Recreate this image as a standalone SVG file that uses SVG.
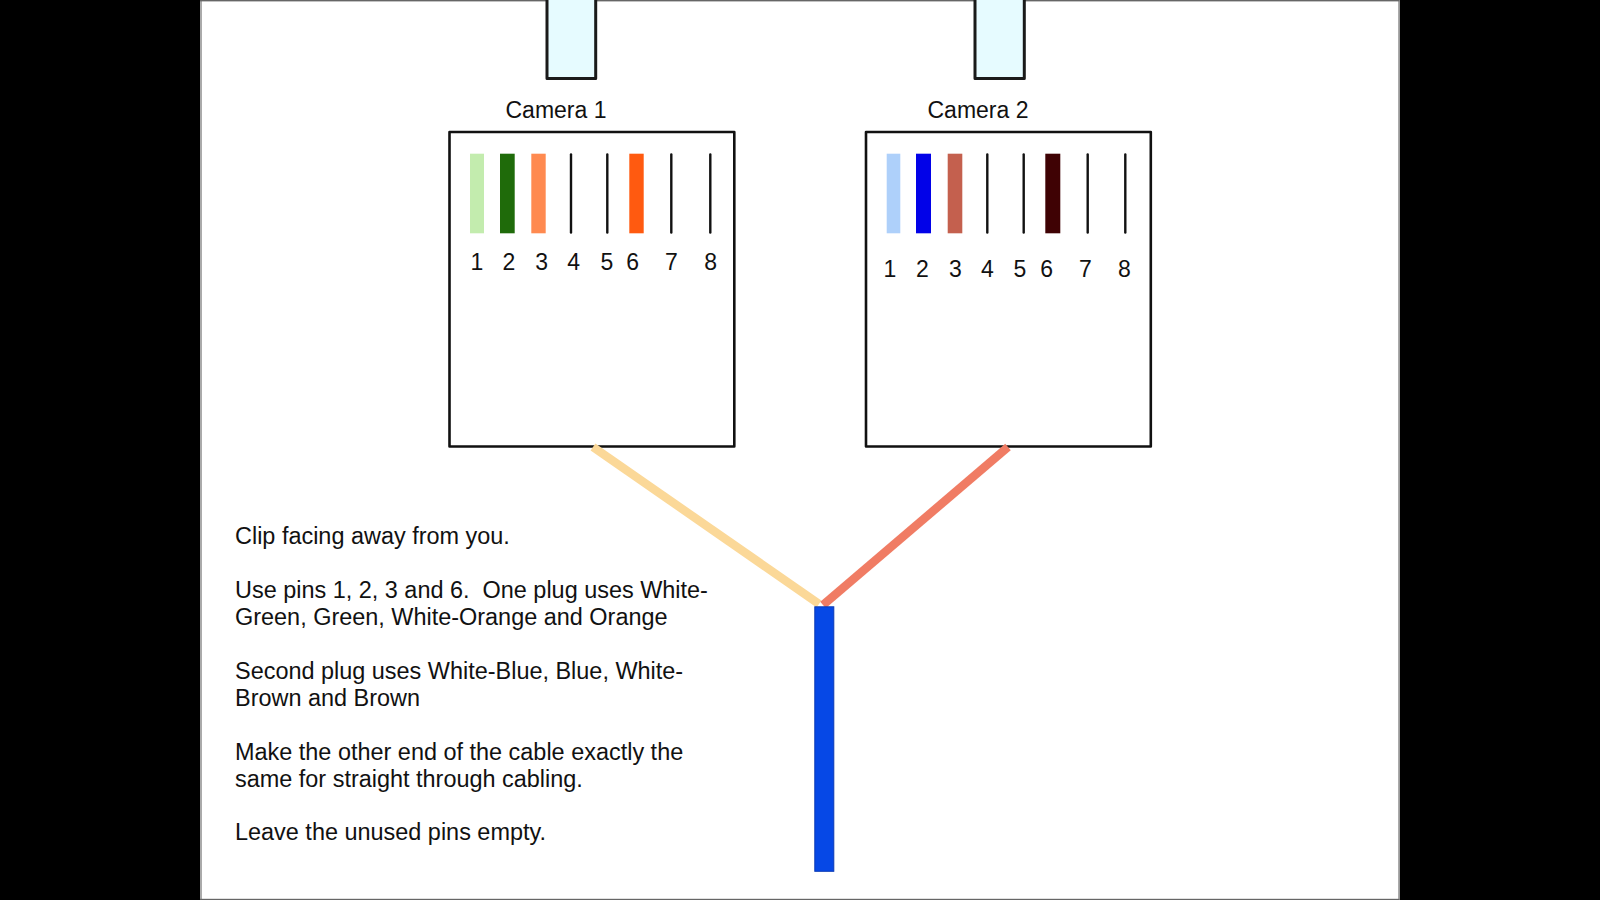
<svg xmlns="http://www.w3.org/2000/svg" width="1600" height="900" viewBox="0 0 1600 900">
<style>
text{font-family:"Liberation Sans",Arial,sans-serif;fill:#111}
.n{font-size:23px;text-anchor:middle}
.c{font-size:23px}
.t{font-size:23.45px;white-space:pre}
.box{fill:#fff;stroke:#111;stroke-width:2.6;stroke-linejoin:round}
.plug{fill:#e6fbff;stroke:#1a1a1a;stroke-width:3;stroke-linejoin:round}
.w{stroke:#111;stroke-width:2.4;stroke-linecap:round}
.edge{fill:#aaa}
</style>
<rect width="1600" height="900" fill="#000"/>
<rect x="200" y="0" width="1199.5" height="900" fill="#fff"/>
<rect class="edge" x="200" y="0" width="2" height="900"/>
<rect class="edge" x="1398" y="0" width="1.6" height="900"/>
<rect x="200" y="0" width="1199.5" height="1.4" fill="#666"/>
<rect x="200" y="898.8" width="1199.5" height="1.2" fill="#666"/>
<g id="plug1"><rect class="plug" x="547" y="-4" width="48.7" height="82.5"/></g>
<g id="plug2"><rect class="plug" x="975" y="-4" width="49.3" height="82.5"/></g>
<g id="jack1">
<text class="c" x="505.5" y="117.8">Camera 1</text>
<rect class="box" x="449.5" y="132" width="284.8" height="314.5"/>
<rect x="470" y="153.7" width="14" height="79.6" fill="#c3ecae"/>
<rect x="500" y="153.7" width="14.7" height="79.6" fill="#1f6b0a"/>
<rect x="531.3" y="153.7" width="14.4" height="79.6" fill="#ff8a50"/>
<line class="w" x1="571" y1="154.5" x2="571" y2="232.5"/>
<line class="w" x1="607.3" y1="154.5" x2="607.3" y2="232.5"/>
<rect x="629.3" y="153.7" width="14.4" height="79.6" fill="#ff5a10"/>
<line class="w" x1="671.3" y1="154.5" x2="671.3" y2="232.5"/>
<line class="w" x1="710.3" y1="154.5" x2="710.3" y2="232.5"/>
<text class="n" x="477" y="270">1</text><text class="n" x="509" y="270">2</text><text class="n" x="541.7" y="270">3</text><text class="n" x="573.7" y="270">4</text><text class="n" x="607" y="270">5</text><text class="n" x="632.7" y="270">6</text><text class="n" x="671.3" y="270">7</text><text class="n" x="710.7" y="270">8</text>
</g>
<g id="jack2">
<text class="c" x="927.5" y="117.8">Camera 2</text>
<rect class="box" x="866" y="132" width="284.8" height="314.5"/>
<rect x="886.7" y="153.7" width="13.6" height="79.6" fill="#aed0fa"/>
<rect x="916" y="153.7" width="15" height="79.6" fill="#0202e8"/>
<rect x="947.7" y="153.7" width="14.6" height="79.6" fill="#c4604e"/>
<line class="w" x1="987.3" y1="154.5" x2="987.3" y2="232.5"/>
<line class="w" x1="1023.7" y1="154.5" x2="1023.7" y2="232.5"/>
<rect x="1045.3" y="153.7" width="15" height="79.6" fill="#3f0204"/>
<line class="w" x1="1087.7" y1="154.5" x2="1087.7" y2="232.5"/>
<line class="w" x1="1125.3" y1="154.5" x2="1125.3" y2="232.5"/>
<text class="n" x="890" y="276.7">1</text><text class="n" x="922.3" y="276.7">2</text><text class="n" x="955.3" y="276.7">3</text><text class="n" x="987.3" y="276.7">4</text><text class="n" x="1020" y="276.7">5</text><text class="n" x="1046.7" y="276.7">6</text><text class="n" x="1085.3" y="276.7">7</text><text class="n" x="1124.3" y="276.7">8</text>
</g>
<g id="connectors">
<line x1="593" y1="447" x2="819" y2="604" stroke="#fbd898" stroke-width="8.5"/>
<line x1="1008" y1="447" x2="823" y2="605" stroke="#f07c64" stroke-width="8.5"/>
<rect id="cable" x="814.8" y="606.8" width="19" height="264.5" fill="#0648e6" stroke="#0a3ab4" stroke-width="1"/>
</g>
<g id="notes">
<text class="t" x="235" y="543.6">Clip facing away from you.</text>
<text class="t" x="235" y="598">Use pins 1, 2, 3 and 6.  One plug uses White-</text>
<text class="t" x="235" y="625">Green, Green, White-Orange and Orange</text>
<text class="t" x="235" y="679">Second plug uses White-Blue, Blue, White-</text>
<text class="t" x="235" y="706">Brown and Brown</text>
<text class="t" x="235" y="760">Make the other end of the cable exactly the</text>
<text class="t" x="235" y="787">same for straight through cabling.</text>
<text class="t" x="235" y="840">Leave the unused pins empty.</text>
</g>
</svg>
